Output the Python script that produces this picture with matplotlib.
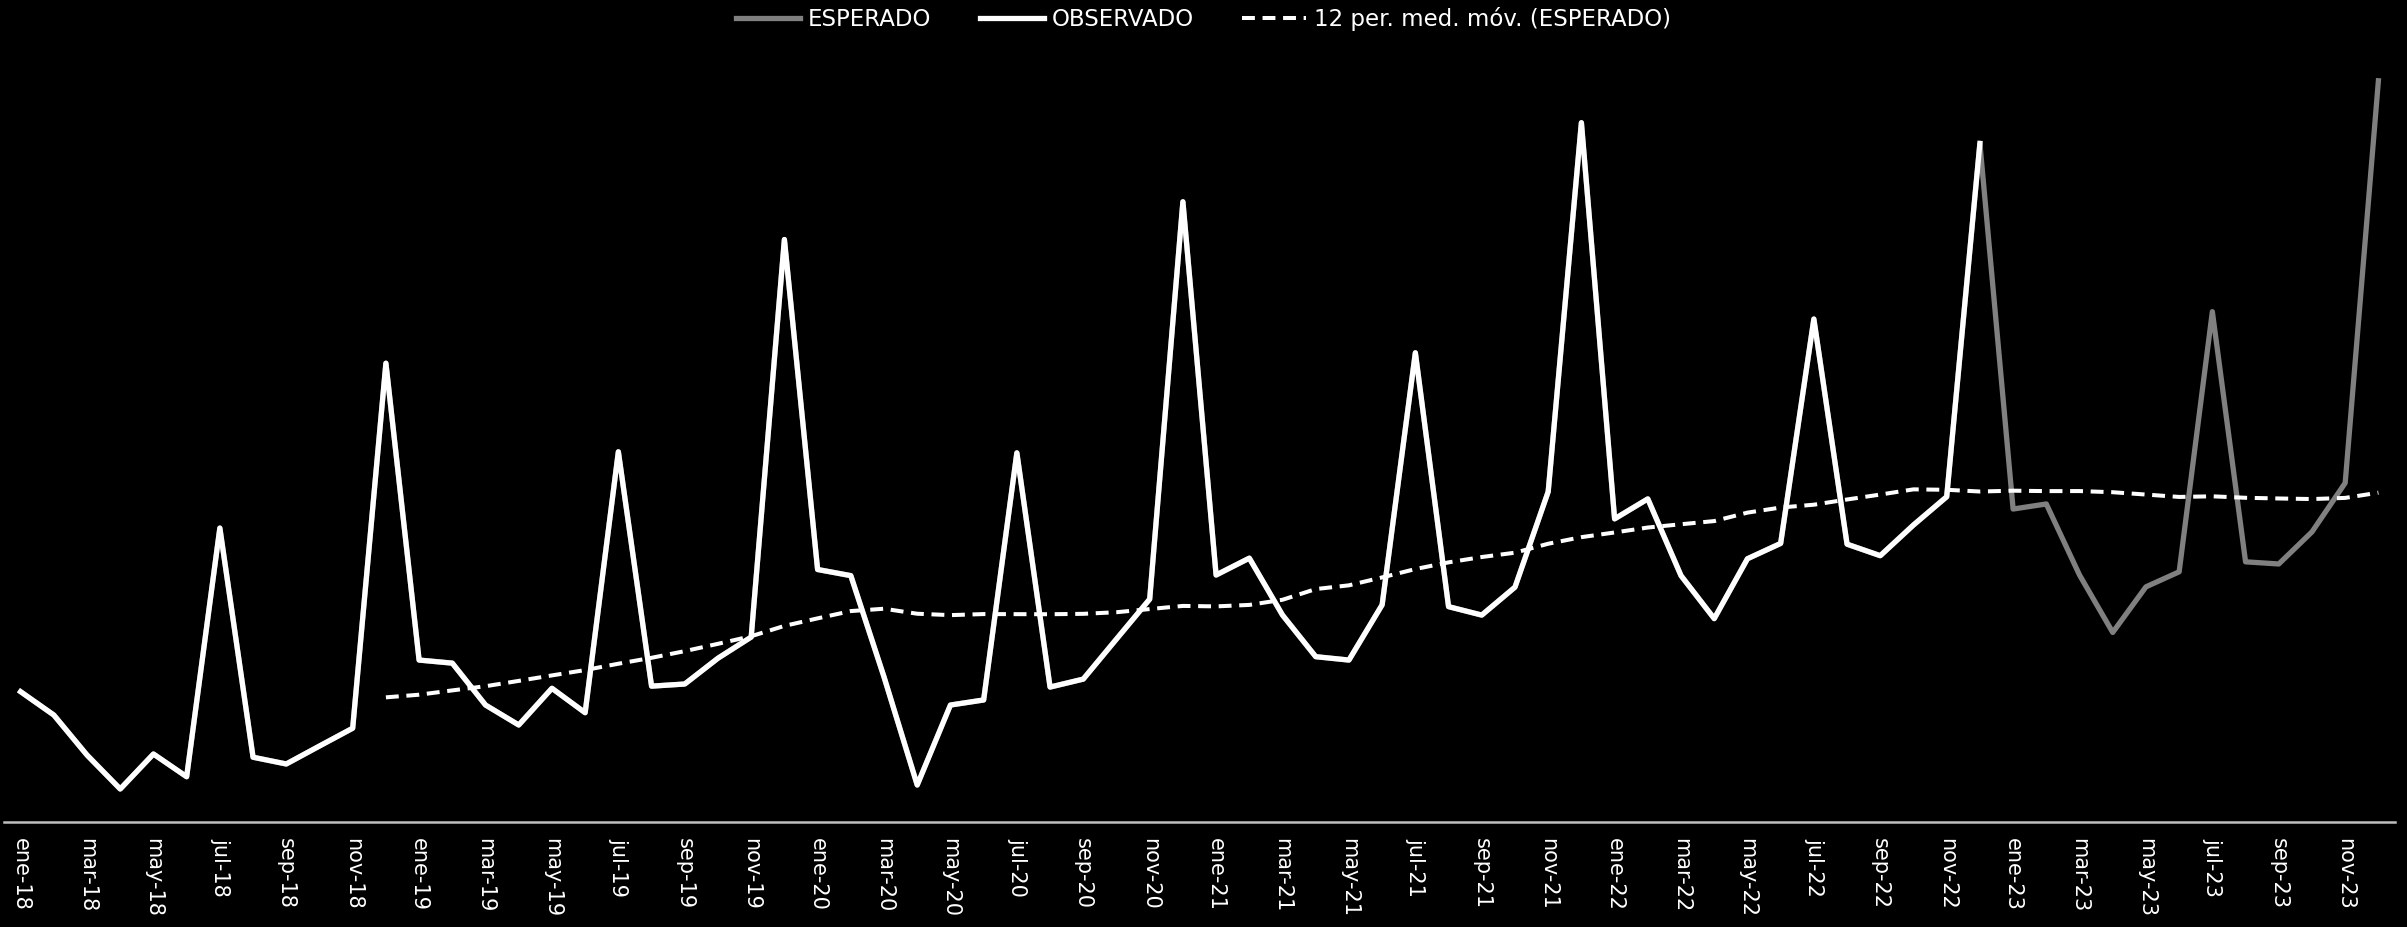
import pandas as pd
import matplotlib.pyplot as plt

# month labels ene-18 .. dic-23
meses = ['ene', 'feb', 'mar', 'abr', 'may', 'jun', 'jul', 'ago', 'sep', 'oct', 'nov', 'dic']
anios = ['18', '19', '20', '21', '22', '23']
etiquetas = [f'{m}-{a}' for a in anios for m in meses]

# observed values ene-18 .. dic-22
observado = [847, 695, 434, 213, 441, 293, 1913, 420, 376, 493, 609, 2987,
             1053, 1033, 760, 630, 869, 710, 2410, 883, 897, 1065, 1203, 3793,
             1643, 1603, 943, 239, 760, 793, 2403, 877, 929, 1190, 1450, 4039,
             1607, 1717, 1346, 1075, 1053, 1413, 3055, 1401, 1346, 1528, 2150, 4554,
             1973, 2103, 1603, 1323, 1713, 1813, 3275, 1808, 1733, 1933, 2117, 4419]

# expected values ene-23 .. dic-23
esperado_2023 = [2037, 2070, 1607, 1233, 1530, 1628, 3323, 1693, 1679, 1888, 2207, 4827]

esperado = pd.Series(observado + esperado_2023, index=etiquetas)
obs = pd.Series(observado, index=etiquetas[:len(observado)])
media_movil = esperado.rolling(12).mean()

fig = plt.figure(figsize=(24.07, 9.27), dpi=100, facecolor='black')
ax = fig.add_axes([4 / 2407, 0.1136, 2391 / 2407, 0.8279])
ax.set_facecolor('black')

x_all = range(len(esperado))
x_obs = range(len(obs))

ax.plot(x_all, esperado.values, color='#808080', lw=3.8, label='ESPERADO')
ax.plot(x_obs, obs.values, color='white', lw=3.8, label='OBSERVADO')
ax.plot(x_all, media_movil.values, color='white', lw=2.9, linestyle=(0, (3.2, 1.9)),
        label='12 per. med. móv. (ESPERADO)')

ax.set_xlim(-0.5, len(esperado) - 0.5)
ax.set_ylim(0, 5000)

ax.set_xticks(range(0, len(etiquetas), 2))
ax.set_xticklabels(etiquetas[::2], rotation=-90, color='white', fontsize=15,
                   va='top', ha='center')
ax.tick_params(axis='x', length=0, pad=12)
ax.set_yticks([])

for s in ['top', 'right', 'left']:
    ax.spines[s].set_visible(False)
ax.spines['bottom'].set_color('#BFBFBF')
ax.spines['bottom'].set_linewidth(1.8)

fig.legend(loc='center', bbox_to_anchor=(0.5, 0.98), ncol=3, frameon=False,
           fontsize=16.5, labelcolor='white', handlelength=2.8,
           handletextpad=0.35, columnspacing=2.1)

plt.savefig('out.png', dpi=100, facecolor='black')
